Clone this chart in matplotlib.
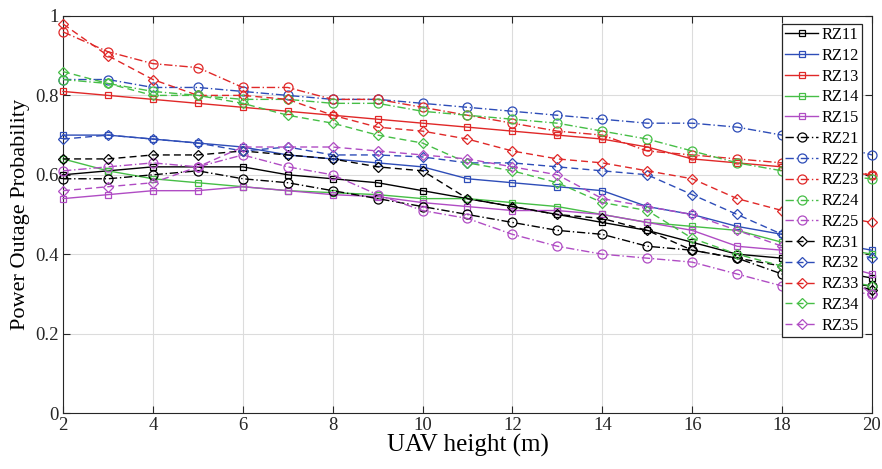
import numpy as np
import matplotlib
matplotlib.use("Agg")
import matplotlib.pyplot as plt

plt.rcParams['font.family'] = ['Liberation Serif', 'DejaVu Serif']
plt.rcParams['mathtext.fontset'] = 'stix'

# ---- data ----
heights = np.arange(2, 21)

rz11 = [0.60, 0.61, 0.62, 0.62, 0.62, 0.60, 0.59, 0.58, 0.56, 0.54, 0.52, 0.50, 0.48, 0.46, 0.43, 0.40, 0.39, 0.36, 0.34]
rz12 = [0.70, 0.70, 0.69, 0.68, 0.67, 0.65, 0.64, 0.63, 0.62, 0.59, 0.58, 0.57, 0.56, 0.52, 0.50, 0.47, 0.45, 0.43, 0.41]
rz13 = [0.81, 0.80, 0.79, 0.78, 0.77, 0.76, 0.75, 0.74, 0.73, 0.72, 0.71, 0.70, 0.69, 0.67, 0.64, 0.63, 0.62, 0.61, 0.60]
rz14 = [0.64, 0.61, 0.59, 0.58, 0.57, 0.56, 0.555, 0.55, 0.54, 0.54, 0.53, 0.52, 0.50, 0.48, 0.47, 0.46, 0.43, 0.42, 0.40]
rz15 = [0.54, 0.55, 0.56, 0.56, 0.57, 0.56, 0.55, 0.545, 0.53, 0.52, 0.51, 0.51, 0.50, 0.48, 0.46, 0.42, 0.41, 0.38, 0.35]

rz21 = [0.59, 0.59, 0.60, 0.61, 0.59, 0.58, 0.56, 0.54, 0.52, 0.50, 0.48, 0.46, 0.45, 0.42, 0.41, 0.39, 0.35, 0.33, 0.32]
rz22 = [0.84, 0.84, 0.82, 0.82, 0.81, 0.80, 0.79, 0.79, 0.78, 0.77, 0.76, 0.75, 0.74, 0.73, 0.73, 0.72, 0.70, 0.68, 0.65]
rz23 = [0.96, 0.91, 0.88, 0.87, 0.82, 0.82, 0.79, 0.79, 0.77, 0.75, 0.73, 0.71, 0.70, 0.66, 0.65, 0.64, 0.63, 0.62, 0.60]
rz24 = [0.84, 0.83, 0.81, 0.80, 0.79, 0.79, 0.78, 0.78, 0.76, 0.75, 0.74, 0.73, 0.71, 0.69, 0.66, 0.63, 0.61, 0.60, 0.59]
rz25 = [0.61, 0.62, 0.63, 0.62, 0.65, 0.62, 0.60, 0.55, 0.51, 0.49, 0.45, 0.42, 0.40, 0.39, 0.38, 0.35, 0.32, 0.31, 0.30]

rz31 = [0.64, 0.64, 0.65, 0.65, 0.66, 0.65, 0.64, 0.62, 0.61, 0.54, 0.52, 0.50, 0.49, 0.46, 0.41, 0.39, 0.37, 0.34, 0.31]
rz32 = [0.69, 0.70, 0.69, 0.68, 0.66, 0.67, 0.65, 0.65, 0.645, 0.63, 0.63, 0.62, 0.61, 0.60, 0.55, 0.50, 0.45, 0.42, 0.39]
rz33 = [0.98, 0.90, 0.84, 0.80, 0.80, 0.79, 0.75, 0.72, 0.71, 0.69, 0.66, 0.64, 0.63, 0.61, 0.59, 0.54, 0.51, 0.50, 0.48]
rz34 = [0.86, 0.83, 0.80, 0.80, 0.78, 0.75, 0.73, 0.70, 0.68, 0.63, 0.61, 0.58, 0.53, 0.51, 0.44, 0.40, 0.37, 0.34, 0.32]
rz35 = [0.56, 0.57, 0.58, 0.62, 0.67, 0.67, 0.67, 0.66, 0.65, 0.64, 0.62, 0.60, 0.54, 0.52, 0.50, 0.46, 0.42, 0.38, 0.30]

labels = ['RZ11', 'RZ12', 'RZ13', 'RZ14', 'RZ15',
          'RZ21', 'RZ22', 'RZ23', 'RZ24', 'RZ25',
          'RZ31', 'RZ32', 'RZ33', 'RZ34', 'RZ35']
series = [rz11, rz12, rz13, rz14, rz15,
          rz21, rz22, rz23, rz24, rz25,
          rz31, rz32, rz33, rz34, rz35]

# ---- styles ----
colors = ['#000000', '#2E4DB8', '#E02828', '#46BE46', '#B04CC4']
markers = ['s', 'o', 'D']
msizes = [5.0, 6.5, 5.5]
linestyles = ['-', (0, (6, 2, 1, 2)), (0, (5, 3))]

fig = plt.figure(figsize=(8.82, 4.69), dpi=100)
ax = fig.add_axes([63 / 882, 1 - 413 / 469, 809 / 882, 397 / 469])

for i, (lab, vals) in enumerate(zip(labels, series)):
    grp, k = divmod(i, 5)
    ax.plot(heights, vals, color=colors[k], linestyle=linestyles[grp],
            marker=markers[grp], markersize=msizes[grp],
            markerfacecolor='none', markeredgewidth=0.9,
            linewidth=1.0, label=lab, clip_on=False, zorder=3)

ax.set_xlim(2, 20)
ax.set_ylim(0, 1)
ax.set_xticks(np.arange(2, 21, 2))
ax.set_yticks(np.arange(0, 1.01, 0.2))
ax.set_yticklabels(['0', '0.2', '0.4', '0.6', '0.8', '1'])
ax.tick_params(direction='in', top=True, right=True, length=5,
               labelsize=13.5, width=0.8, colors='#262626', pad=3)
ax.grid(True, color='#DCDCDC', linewidth=0.8, zorder=0)
ax.set_axisbelow(True)
for s in ax.spines.values():
    s.set_color('#262626')
    s.set_linewidth(0.8)

ax.set_xlabel('UAV height (m)', fontsize=18, labelpad=0)
ax.set_ylabel('Power Outage Probability', fontsize=16, labelpad=4)

leg = ax.legend(loc='upper left', bbox_to_anchor=(0.889, 0.98),
                fontsize=11.8, frameon=True, fancybox=False, framealpha=1,
                edgecolor='#262626', borderpad=0.2, labelspacing=0.29,
                handlelength=2.0, handletextpad=0.2, borderaxespad=0)
leg.get_frame().set_linewidth(0.9)
leg.set_zorder(10)

fig.savefig('out.png', dpi=100)
